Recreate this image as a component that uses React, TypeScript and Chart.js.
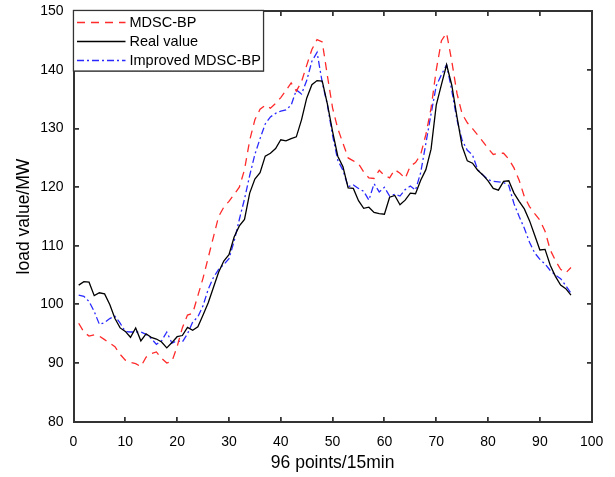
import React, { useEffect, useRef } from "react";
import { Chart, registerables } from "chart.js";

Chart.register(...registerables);

const xValues: number[] = Array.from({ length: 96 }, (_, i) => i + 1);

const realValue: number[] = [
  103.3, 103.9, 103.8, 101.5, 102.0, 101.8, 100.0, 97.6, 96.0, 95.4,
  94.4, 96.0, 93.8, 95.0, 94.4, 94.1, 93.6, 92.6, 93.5, 94.5,
  94.7, 96.1, 95.6, 96.2, 98.2, 100.3, 102.9, 105.5, 107.4, 108.5,
  111.5, 113.4, 114.5, 119.0, 121.4, 122.5, 125.3, 125.8, 126.6, 128.1,
  127.9, 128.3, 128.6, 131.5, 135.2, 137.5, 138.2, 138.1, 134.2, 129.5,
  125.3, 123.5, 119.9, 119.8, 117.7, 116.4, 116.6, 115.7, 115.5, 115.4,
  118.3, 118.6, 117.0, 117.8, 119.0, 118.9, 121.2, 123.0, 126.5, 134.0,
  137.5, 140.9, 137.4, 132.0, 127.0, 124.5, 124.1, 122.9, 122.1, 121.1,
  119.8, 119.5, 121.0, 121.1, 119.0, 117.6, 116.3, 114.3, 111.8, 109.3,
  109.4, 106.7, 104.8, 103.3, 102.7, 101.6,
];

const mdscBp: number[] = [
  96.8, 95.3, 94.6, 94.8, 94.6, 94.0, 93.4, 92.8, 91.5, 90.5,
  90.1, 89.9, 89.4, 91.0, 91.6, 91.9, 90.8, 90.0, 90.3, 92.8,
  96.0, 98.2, 98.5, 101.5, 104.5, 108.0, 111.5, 115.0, 116.6, 117.6,
  118.8, 120.0, 123.0, 128.0, 131.5, 133.3, 134.0, 133.5, 134.3, 135.3,
  136.5, 137.8, 136.4, 138.0, 140.8, 143.5, 145.2, 144.8, 139.0, 133.5,
  130.0, 127.5, 125.0, 124.5, 124.0, 122.6, 121.6, 121.5, 122.9, 122.0,
  121.6, 123.0, 122.4, 121.5, 123.6, 124.2, 125.6, 129.0, 133.5, 140.0,
  145.0, 146.3, 141.5, 136.0, 132.5, 131.0, 130.0, 128.9, 127.8, 126.6,
  125.6, 125.8, 125.8, 124.8, 123.3, 121.2, 118.4, 116.7, 115.5, 114.4,
  112.5, 109.3, 107.5, 106.0, 105.4, 106.3,
];

const improvedMdscBp: number[] = [
  101.6, 101.4, 100.5, 98.8, 96.6, 96.9, 97.6, 98.0, 96.8, 95.4,
  95.3, 95.3, 95.3, 94.9, 94.2, 93.2, 93.8, 95.3, 93.4, 93.8,
  93.6, 95.0, 97.0, 97.9, 99.8, 102.6, 104.6, 106.0, 106.8, 107.8,
  110.8, 114.5, 118.0, 122.0, 125.6, 128.3, 130.8, 132.0, 132.6, 133.0,
  133.2, 134.0, 136.6, 135.9, 138.2, 141.5, 143.0, 137.9, 134.0, 128.8,
  124.6, 122.9, 120.1, 120.4, 119.8, 119.3, 117.8, 120.6, 119.2, 120.0,
  118.5, 118.8, 118.5, 119.6, 120.2, 119.5, 122.5, 127.5, 132.5, 137.3,
  139.2, 140.9, 136.5, 131.5, 128.0, 126.3, 125.5, 123.0, 122.1, 121.3,
  121.0, 120.9, 120.8, 120.3, 117.2, 115.0, 113.0, 110.6, 108.8, 107.7,
  106.9, 105.8, 105.0, 104.4, 103.2, 101.9,
];

const seriesNames: string[] = ["MDSC-BP", "Real value", "Improved MDSC-BP"];
const seriesColors: string[] = ["#ff2a2a", "#000000", "#2a2aff"];
const seriesDashes: number[][] = [[8, 6], [], [7, 3, 2, 3]];

const xTicks: number[] = [0, 10, 20, 30, 40, 50, 60, 70, 80, 90, 100];
const yTicks: number[] = [80, 90, 100, 110, 120, 130, 140, 150];
const xTitle = "96 points/15min";
const yTitle = "load value/MW";

const FONT = "'Liberation Sans', Arial, Helvetica, sans-serif";
const FRAME_COLOR = "#333333";

function drawFrame(chart: any) {
  const ctx = chart.ctx as CanvasRenderingContext2D;
  const a = chart.chartArea;
  const xs = chart.scales.x;
  const ys = chart.scales.y;
  const L = Math.round(a.left);
  const T = Math.round(a.top);
  const R = Math.round(a.right);
  const B = Math.round(a.bottom);
  ctx.save();
  ctx.globalAlpha = 1;
  ctx.globalCompositeOperation = "source-over";
  ctx.fillStyle = FRAME_COLOR;
  ctx.fillRect(L - 1, T - 1, R - L + 2, 2);
  ctx.fillRect(L - 1, B - 1, R - L + 2, 2);
  ctx.fillRect(L - 1, T - 1, 2, B - T + 2);
  ctx.fillRect(R - 1, T - 1, 2, B - T + 2);
  const tl = 5;
  for (const v of xTicks) {
    const px = Math.round(xs.getPixelForValue(v));
    ctx.fillRect(px - 1, B - tl, 1.5, tl);
    ctx.fillRect(px - 1, T, 1.5, tl);
  }
  for (const v of yTicks) {
    const py = Math.round(ys.getPixelForValue(v));
    ctx.fillRect(L, py - 1, tl, 1.5);
    ctx.fillRect(R - tl, py - 1, tl, 1.5);
  }
  ctx.restore();
}

function drawLegend(chart: any) {
  const ctx = chart.ctx as CanvasRenderingContext2D;
  const a = chart.chartArea;
  const lx = Math.round(a.left) - 0.5;
  const ly = Math.round(a.top) - 0.5;
  const lw = 190;
  const lh = 60.5;
  ctx.save();
  ctx.setLineDash([]);
  ctx.fillStyle = "#ffffff";
  ctx.fillRect(lx, ly, lw, lh);
  ctx.strokeStyle = FRAME_COLOR;
  ctx.lineWidth = 1.2;
  ctx.strokeRect(lx, ly, lw, lh);
  const rows = [12, 31, 50];
  ctx.font = `14.5px ${FONT}`;
  ctx.textBaseline = "middle";
  ctx.textAlign = "left";
  for (let i = 0; i < seriesNames.length; i++) {
    const y = ly + rows[i];
    ctx.beginPath();
    ctx.strokeStyle = seriesColors[i];
    ctx.lineWidth = 1.3;
    ctx.setLineDash(seriesDashes[i]);
    ctx.moveTo(lx + 3.5, y);
    ctx.lineTo(lx + 52, y);
    ctx.stroke();
    ctx.setLineDash([]);
    ctx.fillStyle = "#000000";
    ctx.fillText(seriesNames[i], lx + 56, y + 0.5);
  }
  ctx.restore();
}

export default function App() {
  const canvasRef = useRef<HTMLCanvasElement | null>(null);

  useEffect(() => {
    document.body.style.margin = "0";
    const canvas = canvasRef.current;
    if (!canvas) return;
    const framePlugin = {
      id: "matlabFrame",
      afterDatasetsDraw(chart: any) {
        drawFrame(chart);
        drawLegend(chart);
      },
      afterDraw(chart: any) {
        drawFrame(chart);
        drawLegend(chart);
      },
    };
    const series = [mdscBp, realValue, improvedMdscBp];
    const chart = new Chart(canvas, {
      type: "line",
      data: {
        datasets: series.map((vals, i) => ({
          label: seriesNames[i],
          data: vals.map((v, j) => ({ x: xValues[j], y: v })),
          borderColor: seriesColors[i],
          backgroundColor: seriesColors[i],
          borderWidth: 1.3,
          borderDash: seriesDashes[i],
          pointRadius: 0,
          tension: 0,
          fill: false,
        })),
      },
      options: {
        responsive: false,
        animation: false,
        devicePixelRatio: 1,
        layout: { padding: { left: 0, right: 23.3, top: 11.4, bottom: 0 } },
        plugins: {
          legend: { display: false },
          tooltip: { enabled: false },
        },
        scales: {
          x: {
            type: "linear",
            min: 0,
            max: 100,
            grid: { display: false, drawTicks: false },
            border: { display: false },
            ticks: {
              stepSize: 10,
              padding: 12,
              color: "#000000",
              font: { family: FONT, size: 14 },
              maxRotation: 0,
            },
            title: {
              display: true,
              text: xTitle,
              color: "#000000",
              font: { family: FONT, size: 17.5 },
              padding: { top: 0, bottom: 3 },
            },
            afterFit: (scale: any) => {
              scale.height = 55.3;
              scale.paddingLeft = 0;
              scale.paddingRight = 0;
            },
          },
          y: {
            type: "linear",
            min: 80,
            max: 150,
            grid: { display: false, drawTicks: false },
            border: { display: false },
            ticks: {
              stepSize: 10,
              padding: 10,
              color: "#000000",
              font: { family: FONT, size: 14 },
            },
            title: {
              display: true,
              text: yTitle,
              color: "#000000",
              font: { family: FONT, size: 17.5 },
              padding: { top: 14, bottom: 0 },
            },
            afterFit: (scale: any) => {
              scale.width = 73.5;
              scale.paddingTop = 0;
              scale.paddingBottom = 0;
            },
          },
        },
      },
      plugins: [framePlugin],
    });
    return () => {
      chart.destroy();
    };
  }, []);

  return (
    <div style={{ width: 615, height: 477, background: "#ffffff" }}>
      <canvas ref={canvasRef} width={615} height={477} style={{ display: "block" }} />
    </div>
  );
}
